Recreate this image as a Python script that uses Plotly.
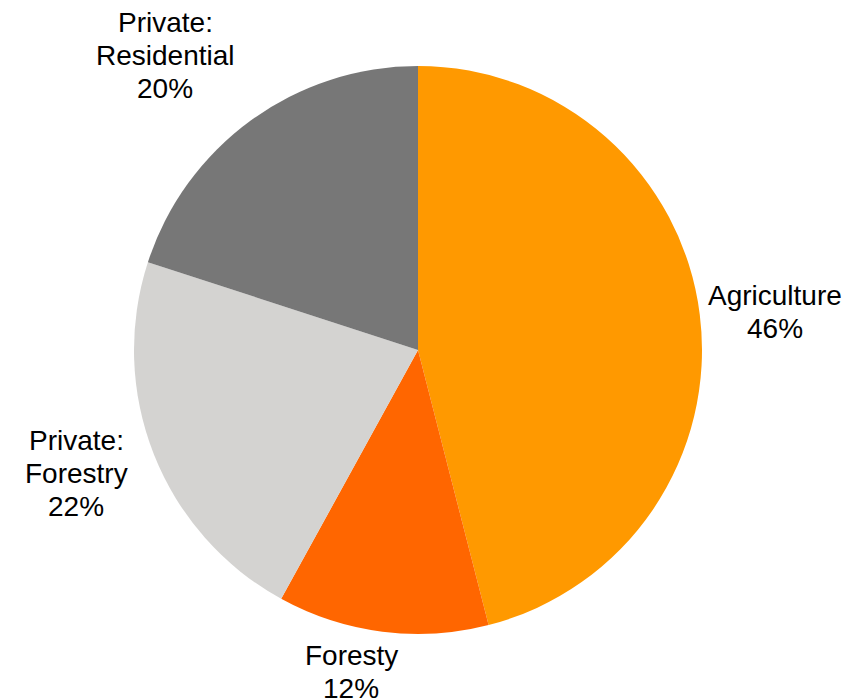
import plotly.graph_objects as go

# Land-use shares, clockwise from 12 o'clock
categories = ["Agriculture", "Foresty", "Private: Forestry", "Private: Residential"]
label_lines = [["Agriculture"], ["Foresty"], ["Private:", "Forestry"], ["Private:", "Residential"]]
shares = [46, 12, 22, 20]
colors = ["#FF9900", "#FF6600", "#D4D3D1", "#777777"]

W, H = 859, 699
MARGIN = dict(l=134, r=157, t=66, b=65)

# Label placement (centre x, baseline of first line), in page pixels
label_pos = [(775, 305.5), (351, 665), (76, 450), (165, 32.7)]
FONT_SIZE = 28
LINE_GAP = 33
FONT = dict(family="Liberation Sans, Arial, sans-serif", size=FONT_SIZE, color="#000000")

plot_w = W - MARGIN["l"] - MARGIN["r"]
plot_h = H - MARGIN["t"] - MARGIN["b"]


def to_paper(px, py):
    return (px - MARGIN["l"]) / plot_w, 1 - (py - MARGIN["t"]) / plot_h


fig = go.Figure(
    go.Pie(
        labels=categories,
        values=shares,
        sort=False,
        direction="clockwise",
        rotation=0,
        marker=dict(colors=colors, line=dict(width=0)),
        textinfo="none",
        showlegend=False,
        hoverinfo="label+percent",
    )
)

annotations = []
for lines, share, (cx, base) in zip(label_lines, shares, label_pos):
    for i, line in enumerate(lines + [f"{share}%"]):
        # centre of the glyph box sits ~0.35em above the baseline
        xp, yp = to_paper(cx, base + i * LINE_GAP - 0.347 * FONT_SIZE)
        annotations.append(
            dict(
                text=line,
                x=xp,
                y=yp,
                xref="paper",
                yref="paper",
                xanchor="center",
                yanchor="middle",
                showarrow=False,
                font=FONT,
            )
        )

fig.update_layout(
    width=W,
    height=H,
    margin=MARGIN,
    paper_bgcolor="white",
    plot_bgcolor="white",
    annotations=annotations,
)

fig.write_html("out.html")
